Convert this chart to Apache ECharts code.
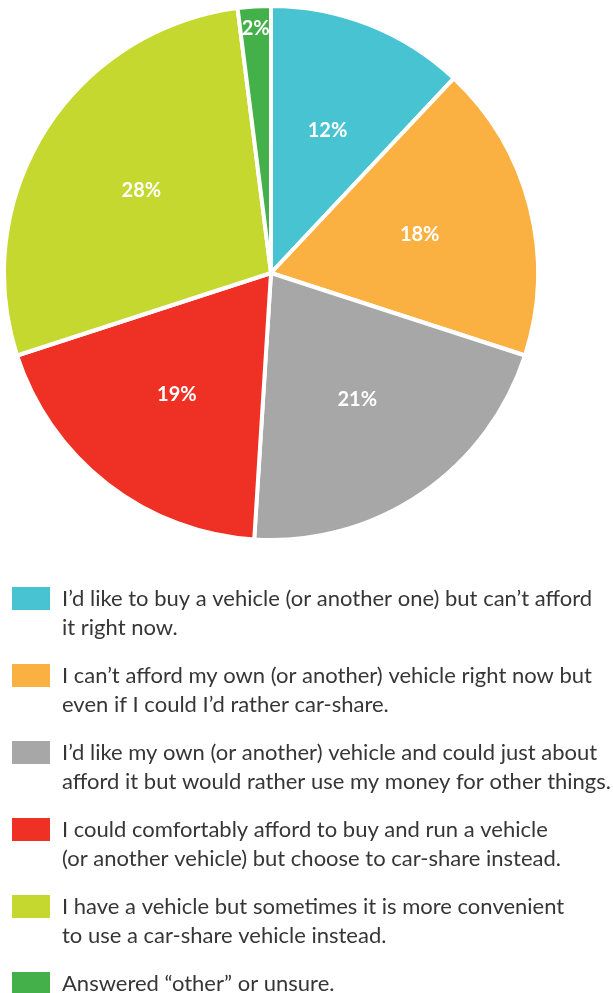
<!DOCTYPE html>
<html>
<head>
<meta charset="utf-8">
<script src="https://cdn.jsdelivr.net/npm/echarts@6/dist/echarts.min.js"></script>
<style>
  html, body { margin: 0; padding: 0; background: #ffffff; }
  #chart { width: 613px; height: 993px; }
</style>
</head>
<body>
<div id="chart"></div>
<script>
// Reasons for car-sharing, share of respondents (%)
const categories = [
  'I\u2019d like to buy a vehicle (or another one) but can\u2019t afford\nit right now.',
  'I can\u2019t afford my own (or another) vehicle right now but\neven if I could I\u2019d rather car-share.',
  'I\u2019d like my own (or another) vehicle and could just about\nafford it but would rather use my money for other things.',
  'I could comfortably afford to buy and run a vehicle\n(or another vehicle) but choose to car-share instead.',
  'I have a vehicle but sometimes it is more convenient\nto use a car-share vehicle instead.',
  'Answered \u201cother\u201d or unsure.'
];
const shares = [12, 18, 21, 19, 28, 2];
const colours = ['#48C3D2', '#FBB042', '#A7A7A7', '#EE3124', '#C4D82F', '#44B04A'];

const FONT = 'Lato, "Open Sans", sans-serif';
const CENTER = [271, 273];
const R = 267;

const slices = categories.map((name, i) => ({
  name: name,
  value: shares[i],
  itemStyle: { color: colours[i] }
}));

// Labels for the wide slices sit mid-way; the thin one sits near the rim.
const midLabels = categories.map((name, i) => ({
  name: name,
  value: shares[i],
  label: { show: shares[i] >= 5 }
}));
const rimLabels = categories.map((name, i) => ({
  name: name,
  value: shares[i],
  label: { show: shares[i] < 5 }
}));

const labelStyle = {
  position: 'inside',
  formatter: '{c}%',
  color: '#ffffff',
  fontFamily: FONT,
  fontWeight: 'bold',
  fontSize: 20
};

const invisiblePie = (radius, data) => ({
  type: 'pie',
  center: CENTER,
  radius: radius,
  startAngle: 90,
  silent: true,
  animation: false,
  labelLine: { show: false },
  itemStyle: { color: 'rgba(0,0,0,0)', borderWidth: 0 },
  emphasis: { disabled: true },
  label: labelStyle,
  data: data
});

// Legend entries: a blank first line keeps the swatch level with the
// first line of text; every entry is padded to three lines so they stack evenly.
const legendText = (name) => {
  const lines = name.split('\n');
  while (lines.length < 2) lines.push(' ');
  return ' \n' + lines.join('\n');
};

const chart = echarts.init(document.getElementById('chart'), null, { renderer: 'canvas' });
chart.setOption({
  backgroundColor: '#ffffff',
  animation: false,
  legend: {
    orient: 'vertical',
    left: 12,
    top: 555,
    height: 480,
    padding: 0,
    icon: 'rect',
    itemWidth: 38,
    itemHeight: 23,
    itemGap: -10,
    selectedMode: false,
    itemStyle: { borderWidth: 0 },
    formatter: legendText,
    textStyle: {
      fontFamily: FONT,
      fontSize: 22,
      lineHeight: 29,
      color: '#363636',
      padding: [0, 0, 0, 7]
    },
    data: categories
  },
  series: [
    {
      type: 'pie',
      center: CENTER,
      radius: [0, R],
      startAngle: 90,
      clockwise: true,
      animation: false,
      silent: true,
      label: { show: false },
      labelLine: { show: false },
      itemStyle: { borderColor: '#ffffff', borderWidth: 4 },
      data: slices
    },
    invisiblePie([34, R], midLabels),
    invisiblePie([216, R], rimLabels)
  ]
});
</script>
</body>
</html>
